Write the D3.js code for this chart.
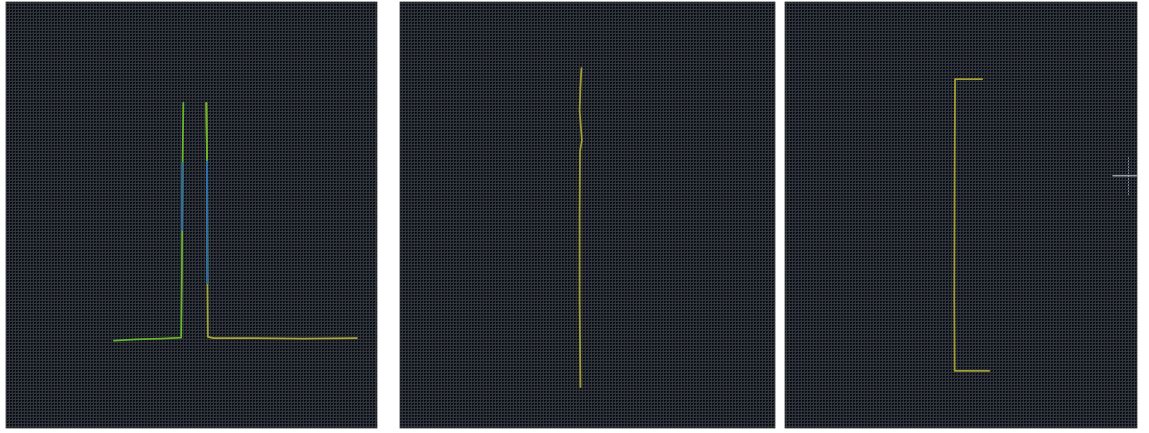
<!DOCTYPE html>
<html><head><meta charset="utf-8">
<script src="https://cdn.jsdelivr.net/npm/d3@7"></script>
<style>html,body{margin:0;padding:0;background:#fff;}svg{display:block;}</style>
</head><body>
<script>
// Panel frames (layout)
const panels = ["p1", "p2", "p3"];
// Series values in each panel's 0-100 data space (x, y)
const p1Left = [[29.1,20.5],[35,20.8],[42,21.0],[47.2,21.2],[47.4,35],[47.5,50],[47.6,62],[47.8,76.3]];
const p1LeftBlue = [[47.45,46.5],[47.55,62.2]];
const p1Right = [[54.0,76.3],[54.2,62.9],[54.3,34],[54.4,21.4],[56,21.1],[65,21.1],[80,21.0],[94.6,21.1]];
const p1RightBlue = [[54.2,62.9],[54.3,34]];
const p2Line = [[48.4,84.5],[48.1,80],[47.9,74.5],[48.5,67.5],[48.0,65],[47.9,50],[47.9,30],[48.1,9.6]];
const p3Bracket = [[56.0,81.9],[48.3,81.9],[48.2,60],[48.1,30],[48.2,13.4],[58.0,13.4]];
const p3CrossH = [[93.2,59.2],[99.8,59.2]];
const p3CrossV = [[97.6,63.5],[97.6,54.8]];

const W = 1149, H = 433;
const frames = {p1:{x0:6,x1:377}, p2:{x0:400,x1:775}, p3:{x0:785,x1:1137}};
const yTop = 2, yBot = 428;

const svg = d3.select("body").append("svg").attr("width", W).attr("height", H);
const defs = svg.append("defs");
const pat = defs.append("pattern").attr("id","dith").attr("patternUnits","userSpaceOnUse")
  .attr("width",3).attr("height",3);
pat.append("rect").attr("width",3).attr("height",3).attr("fill","#08091c");
pat.append("rect").attr("width",1).attr("height",3).attr("fill","#343436");
pat.append("rect").attr("width",3).attr("height",1).attr("fill","#343436");
pat.append("rect").attr("x",2).attr("y",2).attr("width",1).attr("height",1).attr("fill","#0b2a2c");

const color = {green:"#69b52c", yellow:"#a9a83a", blue:"#2b70ad", olive:"#a39f34", white:"#c8d6e0"};

panels.forEach(id => {
  const f = frames[id];
  const g = svg.append("g").attr("id", id);
  g.append("rect").attr("x", f.x0).attr("y", yTop).attr("width", f.x1 - f.x0).attr("height", yBot - yTop)
    .attr("fill", "url(#dith)").attr("stroke", "#3a3a3a").attr("stroke-width", 0.8);
});

function scales(id) {
  const f = frames[id];
  return {
    x: d3.scaleLinear().domain([0,100]).range([f.x0, f.x1]),
    y: d3.scaleLinear().domain([0,100]).range([yBot, yTop])
  };
}
function draw(id, data, stroke, width, extra) {
  const s = scales(id);
  const line = d3.line().x(d => s.x(d[0])).y(d => s.y(d[1]));
  const p = svg.select("#" + id).append("path").datum(data).attr("d", line)
    .attr("fill","none").attr("stroke", stroke).attr("stroke-width", width)
    .attr("stroke-linejoin","round").attr("stroke-linecap","round");
  if (extra) extra(p);
  return p;
}
draw("p1", p1Left, color.green, 1.8);
draw("p1", p1LeftBlue, color.blue, 2);
draw("p1", p1Right, color.yellow, 1.8);
draw("p1", p1RightBlue, color.blue, 2);
draw("p1", p1Right.slice(0,2), color.green, 1.8);
draw("p2", p2Line, color.olive, 1.8);
draw("p3", p3Bracket, color.olive, 1.8);
draw("p3", p3CrossH, color.white, 1.6, p => p.attr("opacity",0.7));
draw("p3", p3CrossV, color.white, 1.2, p => p.attr("stroke-dasharray","1,2").attr("opacity",0.5));
</script>
</body></html>
